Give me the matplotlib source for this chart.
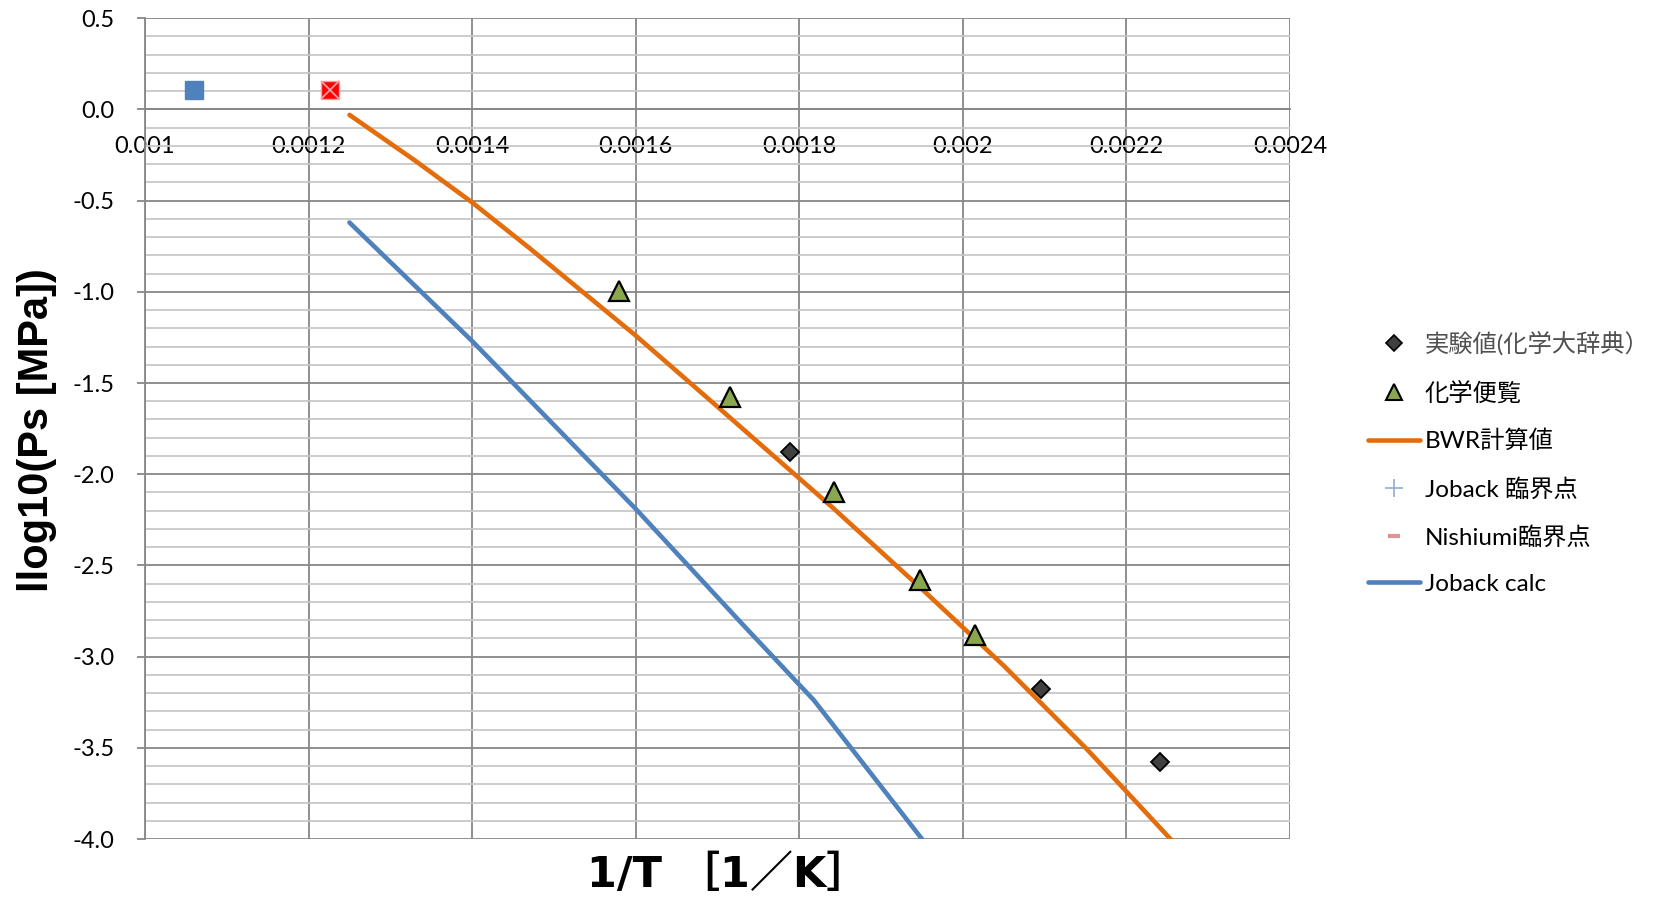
import matplotlib
matplotlib.use("Agg")
import matplotlib.pyplot as plt
from matplotlib.lines import Line2D
from matplotlib.ticker import FormatStrFormatter, MultipleLocator
import numpy as np

plt.rcParams['font.family'] = ['Lato', 'Noto Sans CJK JP', 'DejaVu Sans']

# experimental values (diamonds)
exp_x = [0.0017886, 0.0020955, 0.0022415]
exp_y = [-1.876, -3.179, -3.577]

# handbook values (triangles)
hb_x = [0.0015793, 0.0017152, 0.0018425, 0.0019477, 0.0020146]
hb_y = [-0.997, -1.576, -2.099, -2.579, -2.879]

# BWR calculation
bwr_x = [0.00125, 0.00133, 0.00140, 0.00147, 0.00160, 0.00170, 0.00184,
         0.00195, 0.00205, 0.00215, 0.00220, 0.00226]
bwr_y = [-0.03, -0.28, -0.51, -0.76, -1.24, -1.63, -2.18,
         -2.63, -3.05, -3.50, -3.74, -4.03]

# Joback calculation
job_x = [0.00125, 0.00140, 0.00160, 0.00173, 0.001818, 0.00195]
job_y = [-0.62, -1.27, -2.19, -2.82, -3.24, -4.00]

# critical points
joback_cp = (0.0010603, 0.107)
nishiumi_cp = (0.0012264, 0.107)

x_ticks = [0.001, 0.0012, 0.0014, 0.0016, 0.0018, 0.002, 0.0022, 0.0024]
x_labels = ['0.001', '0.0012', '0.0014', '0.0016', '0.0018', '0.002', '0.0022', '0.0024']

labels = ['実験値(化学大辞典）', '化学便覧', 'BWR計算値', 'Joback 臨界点', 'Nishiumi臨界点', 'Joback calc']

orange = '#E46C0A'
blue = '#4F81BD'
green = '#8BA74E'
grid_major = '#878787'
grid_minor = '#C8C8C8'

fig = plt.figure(figsize=(16.78, 9.01), dpi=100)
ax = fig.add_axes([0.0864, 0.0688, 0.6824, 0.9110])

ax.set_xlim(0.001, 0.0024)
ax.set_ylim(-4.0, 0.5)

ax.yaxis.set_major_locator(MultipleLocator(0.5))
ax.yaxis.set_minor_locator(MultipleLocator(0.1))
ax.yaxis.set_major_formatter(FormatStrFormatter('%.1f'))
ax.set_xticks(x_ticks)
ax.set_xticklabels(x_labels)

ax.grid(which='major', color=grid_major, lw=1.3)
ax.grid(which='minor', axis='y', color=grid_minor, lw=1.3)
ax.set_axisbelow(True)

for s in ['top', 'right']:
    ax.spines[s].set_visible(False)
ax.spines['left'].set_color(grid_major)
ax.spines['left'].set_linewidth(1.3)
ax.spines['bottom'].set_position(('data', 0))
ax.spines['bottom'].set_color(grid_major)
ax.spines['bottom'].set_linewidth(1.3)

ax.tick_params(axis='y', which='major', length=6, width=1.3, color=grid_major,
               labelsize=17, pad=16)
ax.tick_params(axis='y', which='minor', length=0)
ax.tick_params(axis='x', length=0, labelsize=17, pad=19)

ax.plot(bwr_x, bwr_y, color=orange, lw=3.3, solid_capstyle='round', zorder=3)
ax.plot(job_x, job_y, color=blue, lw=3.3, solid_capstyle='round', zorder=3)
ax.plot(exp_x, exp_y, ls='none', marker='D', ms=9.5, mfc='#404040', mec='black',
        mew=1.3, zorder=4)
ax.plot(hb_x, hb_y, ls='none', marker='^', ms=15, mfc=green, mec='black',
        mew=1.6, zorder=4)
ax.plot(*joback_cp, ls='none', marker='s', ms=13.5, mfc=blue, mec=blue, zorder=4)
ax.plot(*nishiumi_cp, ls='none', marker='s', ms=13.5, mfc='red', mec='#F2A0A0',
        mew=1, zorder=4)
ax.plot(*nishiumi_cp, ls='none', marker='x', ms=13, mec='#F2A0A0', mew=1.3,
        zorder=5)

# axis titles placed in figure coords (x axis crosses at y=0)
fig.text(0.022, 0.523, 'llog10(Ps [MPa])', family=['Liberation Sans', 'DejaVu Sans'],
         fontsize=30, fontweight='bold', rotation=90, ha='center', va='center')
fig.text(0.434, 1 - 875 / 901, '1/T ［1／K］', family=['DejaVu Sans', 'Noto Sans CJK JP'],
         fontsize=31, fontweight='bold', ha='center', va='center')

handles = [
    Line2D([], [], ls='none', marker='D', ms=8, mfc='#404040', mec='black', mew=1.2),
    Line2D([], [], ls='none', marker='^', ms=12, mfc=green, mec='black', mew=1.5),
    Line2D([], [], color=orange, lw=3.3, solid_capstyle='round'),
    Line2D([], [], ls='none', marker='+', ms=13, mec='#95B3D7', mew=1.3),
    Line2D([], [], ls='none', marker='_', ms=8, mec='#D99694', mew=3),
    Line2D([], [], color=blue, lw=3.3, solid_capstyle='round'),
]
leg = fig.legend(handles, labels, loc='upper left', bbox_to_anchor=(0.8153, 0.632),
                 frameon=False, fontsize=17.5, handlelength=2.14, handletextpad=0.2,
                 labelspacing=1.04, borderpad=0, borderaxespad=0)
leg.get_texts()[0].set_color('#505050')

fig.savefig('out.png', dpi=100)
